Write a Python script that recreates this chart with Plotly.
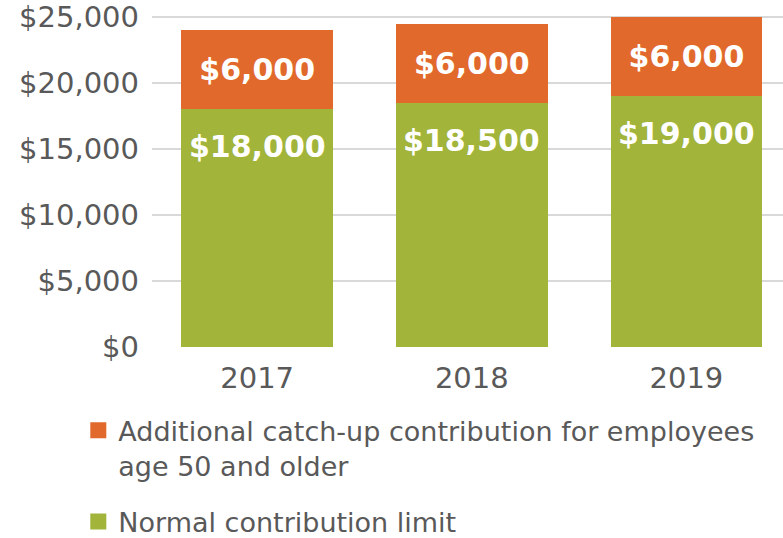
import plotly.graph_objects as go

years = ["2017", "2018", "2019"]
normal_limit = [18000, 18500, 19000]
catch_up = [6000, 6000, 6000]
series_names = [
    "Additional catch-up contribution for employees<br>age 50 and older",
    "Normal contribution limit",
]
y_ticks = [0, 5000, 10000, 15000, 20000, 25000]
y_tick_text = ["$" + format(v, ",") for v in y_ticks]

GREEN = "#A2B43A"
ORANGE = "#E1692B"
TEXT = "#595959"
FONT = "DejaVu Sans"

fig = go.Figure()
fig.add_trace(go.Bar(
    x=years, y=normal_limit, marker=dict(color=GREEN, line=dict(width=0)),
    showlegend=False, hoverinfo="skip",
))
fig.add_trace(go.Bar(
    x=years, y=catch_up, marker=dict(color=ORANGE, line=dict(width=0)),
    texttemplate="$%{y:,}", textposition="inside", insidetextanchor="middle",
    constraintext="none", textangle=0,
    textfont=dict(family=FONT, size=30, color="white", weight="bold"),
    showlegend=False, hoverinfo="skip",
))

# legend-only entries: a single marker below the visible y range (clipped)
fig.add_trace(go.Scatter(
    x=years[:1], y=[-10000], mode="markers", name=series_names[0],
    marker=dict(symbol="square", size=20, color=ORANGE), legendgroup="a",
    hoverinfo="skip",
))
fig.add_trace(go.Scatter(
    x=years[:1], y=[-10000], mode="markers", name=series_names[1],
    marker=dict(symbol="square", size=20, color=GREEN), legendgroup="b",
    hoverinfo="skip",
))

# labels for the green segments, near the top of each segment
for i, v in enumerate(normal_limit):
    fig.add_annotation(
        x=i, y=v, xref="x", yref="y", yanchor="top", yshift=-18,
        showarrow=False, text="$" + format(v, ","),
        font=dict(family=FONT, size=30, color="white", weight="bold"),
    )

fig.update_layout(
    width=783, height=538,
    margin=dict(l=152, r=0, t=13, b=191, autoexpand=False),
    barmode="stack", bargap=0.293,
    plot_bgcolor="white", paper_bgcolor="white",
    font=dict(family=FONT, color=TEXT),
    xaxis=dict(
        type="category", range=[-0.49, 2.45], showgrid=False, zeroline=False,
        showline=False, ticks="", tickfont=dict(size=29, color=TEXT),
        tickangle=0, automargin=False, ticklabelstandoff=11,
    ),
    yaxis=dict(
        range=[0, 25300], tickmode="array", tickvals=y_ticks,
        ticktext=y_tick_text, ticklabeloverflow="allow",
        showgrid=True, gridcolor="#D9D9D9", gridwidth=2, zeroline=False,
        tickfont=dict(size=29, color=TEXT), ticklabelstandoff=12,
        automargin=False,
    ),
    legend=dict(
        xref="container", yref="container", x=0.1, y=0.245,
        xanchor="left", yanchor="top", orientation="v",
        font=dict(family=FONT, size=27, color=TEXT),
        valign="top", traceorder="grouped", tracegroupgap=18,
        itemsizing="trace", bgcolor="rgba(0,0,0,0)",
    ),
)

fig.write_html("out.html")
